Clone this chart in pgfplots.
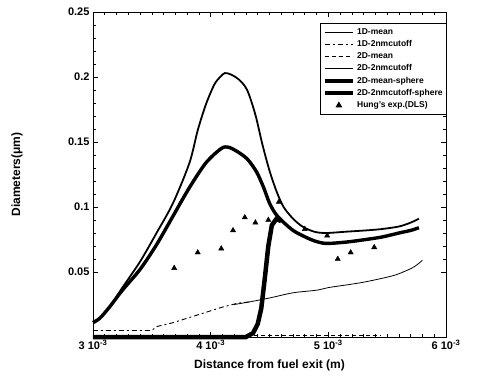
\documentclass[border=0pt]{standalone}
\usepackage{pgfplots}
\pgfplotsset{compat=1.18}
\usepackage{fontspec}
\setmainfont{Liberation Sans}
\begin{document}
\begin{tikzpicture}
\useasboundingbox (-93pt,-46pt) rectangle (384pt,337pt);
\begin{axis}[
  scale only axis, width=353pt, height=325pt,
  at={(0pt,0pt)}, anchor=south west,
  xmin=0.003, xmax=0.006, ymin=0, ymax=0.25,
  clip=false, scaled x ticks=false, scaled y ticks=false,
  xtick={0.003,0.004,0.005,0.006},
  xticklabels={3 10\textsuperscript{-3},4 10\textsuperscript{-3},5 10\textsuperscript{-3},6 10\textsuperscript{-3}},
  ytick={0.05,0.1,0.15,0.2,0.25},
  yticklabels={0.05,0.1,0.15,0.2,0.25},
  minor x tick num=9, minor y tick num=4,
  tick align=inside, major tick length=5pt, minor tick length=3pt,
  tick style={black, line width=0.6pt},
  axis line style={line width=0.8pt},
  ticklabel style={font=\bfseries\fontsize{11}{13}\selectfont},
  xlabel={Distance from fuel exit (m)},
  ylabel={Diameters(μm)},
  label style={font=\bfseries\fontsize{12}{14}\selectfont},
  xlabel style={at={(axis description cs:0.5,-0.088)}, anchor=center},
  ylabel style={at={(axis description cs:-0.215,0.5)}, anchor=center},
  legend image code/.code={\draw[mark repeat=2,mark phase=2,#1] plot coordinates {(0pt,0pt) (14pt,0pt) (28pt,0pt)};},
  legend style={at={(1.003,0.966)}, anchor=north east, draw, line width=0.9pt,
    font=\bfseries\fontsize{8.5}{10}\selectfont, row sep=0.6pt,
    inner xsep=2pt, inner ysep=3pt, cells={anchor=west}},
  legend cell align=left,
]
% 1D-mean
\addplot[black, line width=0.8pt, smooth] coordinates {
(0.00420,0.025)(0.00433,0.027)(0.00450,0.030)(0.00470,0.034)(0.00490,0.036)
(0.00500,0.038)(0.00515,0.040)(0.00529,0.042)(0.00545,0.045)(0.00558,0.048)
(0.00571,0.053)(0.00576,0.056)(0.00580,0.059)};
\addlegendentry{1D-mean}
% 1D-2nmcutoff
\addplot[black, line width=0.9pt, dash pattern=on 5pt off 3pt on 2pt off 3pt] coordinates {
(0.00300,0.005)(0.00350,0.005)(0.00354,0.008)(0.00368,0.011)(0.00382,0.015)
(0.00396,0.019)(0.00410,0.023)(0.00423,0.026)(0.00433,0.027)};
\addlegendentry{1D-2nmcutoff}
% 2D-mean
\addplot[black, line width=0.9pt, dash pattern=on 4pt off 3pt] coordinates {
(0.00300,0.0015)(0.00400,0.0015)(0.00500,0.0015)(0.00545,0.0015)};
\addlegendentry{2D-mean}
% 2D-2nmcutoff
\addplot[black, line width=1.8pt, smooth] coordinates {
(0.00300,0.012)(0.00306,0.0146)(0.00314,0.023)(0.00325,0.038)(0.00340,0.058)
(0.00354,0.080)(0.00368,0.103)(0.00382,0.134)(0.00389,0.159)(0.00396,0.179)
(0.00403,0.194)(0.00408,0.200)(0.00412,0.203)(0.00417,0.202)(0.00424,0.198)
(0.00431,0.190)(0.00438,0.171)(0.00444,0.148)(0.00450,0.128)(0.00456,0.112)
(0.00462,0.100)(0.00470,0.091)(0.00478,0.085)(0.00488,0.081)(0.00498,0.080)
(0.00515,0.081)(0.00532,0.082)(0.00545,0.083)(0.00560,0.085)(0.00570,0.088)
(0.00577,0.091)};
\addlegendentry{2D-2nmcutoff}
% 2D-mean-sphere
\addplot[black, line width=4.5pt] coordinates {
(0.00300,0.0)(0.00430,0.0)(0.00436,0.003)(0.00440,0.010)(0.00443,0.022)
(0.00446,0.045)(0.00449,0.070)(0.00452,0.086)(0.00456,0.091)(0.00460,0.089)};
\addlegendentry{2D-mean-sphere}
% 2D-2nmcutoff-sphere
\addplot[black, line width=3.4pt, smooth] coordinates {
(0.00300,0.011)(0.00306,0.0146)(0.00314,0.023)(0.00325,0.036)(0.00340,0.052)
(0.00354,0.071)(0.00368,0.093)(0.00382,0.115)(0.00396,0.134)(0.00409,0.145)
(0.00415,0.146)(0.00422,0.143)(0.00431,0.137)(0.00439,0.127)(0.00445,0.115)
(0.00450,0.103)(0.00455,0.095)(0.00461,0.089)(0.00470,0.082)(0.00478,0.078)
(0.00488,0.074)(0.00498,0.072)(0.00515,0.073)(0.00532,0.075)(0.00546,0.077)
(0.00560,0.080)(0.00570,0.082)(0.00577,0.084)};
\addlegendentry{2D-2nmcutoff-sphere}
% Hung's exp (DLS)
\addplot[only marks, mark=triangle*, mark size=3pt, black] coordinates {
(0.00369,0.053)(0.00389,0.065)(0.00409,0.068)(0.00419,0.082)(0.00429,0.092)
(0.00438,0.088)(0.00449,0.090)(0.00458,0.104)(0.00480,0.083)(0.00499,0.078)
(0.00508,0.060)(0.00519,0.065)(0.00539,0.069)};
\addlegendentry{Hung's exp.(DLS)}
\end{axis}
\end{tikzpicture}
\end{document}
